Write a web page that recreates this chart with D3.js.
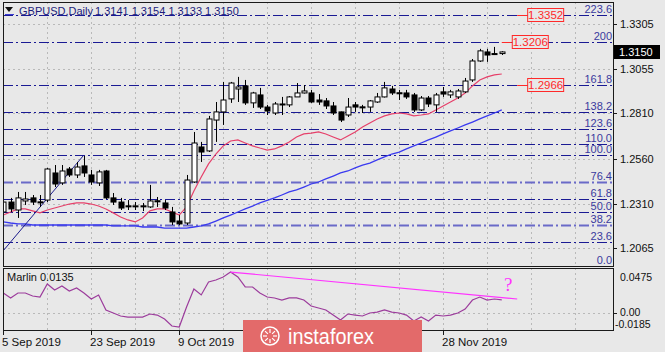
<!DOCTYPE html>
<html>
<head>
<meta charset="utf-8">
<script src="https://cdn.jsdelivr.net/npm/d3@7"></script>
<style>
  body { margin: 0; background: #e8e8e8; }
  svg { display: block; font-family: "Liberation Sans", Arial, sans-serif; }
</style>
</head>
<body>
<svg id="chart"></svg>
<script>
// GBPUSD daily bars, 5 Sep 2019 .. 9 Dec 2019 (one entry per bar)
var openP = [1.2264,1.2319,1.2275,1.2325,1.2342,1.2320,1.2330,1.2480,1.2425,1.2502,
  1.2469,1.2519,1.2469,1.2425,1.2491,1.2342,1.2319,1.2298,1.2296,1.2298,
  1.2292,1.2326,1.2314,1.2264,1.2214,1.2203,1.2430,1.2624,1.2602,1.2773,
  1.2818,1.2890,1.2945,1.2962,1.2868,1.2912,1.2845,1.2812,1.2862,1.2857,
  1.2901,1.2923,1.2923,1.2884,1.2879,1.2851,1.2818,1.2801,1.2857,1.2846,
  1.2845,1.2873,1.2901,1.2945,1.2924,1.2923,1.2912,1.2829,1.2895,1.2857,
  1.2929,1.2912,1.2901,1.2929,1.2995,1.3100,1.3150,1.3141,1.3141];
var highP = [1.2342,1.2342,1.2375,1.2375,1.2358,1.2358,1.2508,1.2524,1.2524,1.2513,
  1.2541,1.2574,1.2497,1.2497,1.2497,1.2369,1.2342,1.2330,1.2319,1.2314,
  1.2414,1.2347,1.2330,1.2292,1.2247,1.2469,1.2707,1.2652,1.2796,1.2873,
  1.2984,1.2984,1.3012,1.2995,1.2929,1.2951,1.2857,1.2873,1.2901,1.2906,
  1.2978,1.2967,1.2940,1.2917,1.2895,1.2873,1.2820,1.2895,1.2873,1.2857,
  1.2884,1.2923,1.2984,1.2962,1.2940,1.2940,1.2923,1.2906,1.2906,1.2923,
  1.2956,1.2940,1.2945,1.3006,1.3111,1.3167,1.3167,1.3178,1.3154];
var lowP = [1.2253,1.2264,1.2231,1.2303,1.2303,1.2292,1.2319,1.2402,1.2414,1.2458,
  1.2452,1.2458,1.2414,1.2408,1.2336,1.2303,1.2275,1.2275,1.2275,1.2269,
  1.2286,1.2292,1.2275,1.2192,1.2192,1.2192,1.2425,1.2541,1.2596,1.2652,
  1.2746,1.2868,1.2873,1.2857,1.2840,1.2834,1.2801,1.2801,1.2801,1.2845,
  1.2901,1.2920,1.2868,1.2857,1.2834,1.2801,1.2762,1.2790,1.2818,1.2812,
  1.2818,1.2868,1.2898,1.2912,1.2884,1.2890,1.2818,1.2823,1.2845,1.2818,
  1.2901,1.2895,1.2890,1.2923,1.2984,1.3095,1.3095,1.3133,1.3133];
var closeP = [1.2319,1.2281,1.2342,1.2336,1.2319,1.2318,1.2502,1.2419,1.2491,1.2469,
  1.2513,1.2480,1.2430,1.2486,1.2342,1.2319,1.2286,1.2295,1.2298,1.2294,
  1.2325,1.2322,1.2286,1.2209,1.2198,1.2441,1.2646,1.2596,1.2779,1.2818,
  1.2884,1.2978,1.2956,1.2868,1.2923,1.2845,1.2823,1.2862,1.2860,1.2901,
  1.2923,1.2934,1.2873,1.2873,1.2851,1.2812,1.2773,1.2845,1.2845,1.2844,
  1.2879,1.2901,1.2951,1.2923,1.2922,1.2901,1.2829,1.2895,1.2862,1.2912,
  1.2917,1.2929,1.2934,1.2989,1.3100,1.3156,1.3133,1.3139,1.3150];

// moving averages (red = fast, blue = slow)
var maFast = [1.2247,1.2264,1.2281,1.2281,1.2270,1.2259,1.2275,1.2286,1.2297,1.2308,
  1.2314,1.2314,1.2308,1.2297,1.2281,1.2259,1.2236,1.2220,1.2209,1.2231,
  1.2270,1.2281,1.2281,1.2264,1.2247,1.2292,1.2380,1.2458,1.2530,1.2585,
  1.2630,1.2657,1.2663,1.2646,1.2630,1.2618,1.2607,1.2613,1.2630,1.2652,
  1.2679,1.2696,1.2701,1.2707,1.2696,1.2679,1.2663,1.2685,1.2707,1.2735,
  1.2757,1.2779,1.2796,1.2807,1.2812,1.2807,1.2796,1.2801,1.2807,1.2829,
  1.2851,1.2873,1.2895,1.2923,1.2962,1.2995,1.3012,1.3023,1.3028];
var maSlow = [1.2209,1.2203,1.2198,1.2198,1.2192,1.2192,1.2192,1.2192,1.2192,1.2192,
  1.2192,1.2192,1.2192,1.2192,1.2192,1.2187,1.2187,1.2187,1.2187,1.2181,
  1.2181,1.2181,1.2175,1.2175,1.2175,1.2175,1.2181,1.2187,1.2198,1.2214,
  1.2231,1.2247,1.2264,1.2281,1.2297,1.2314,1.2328,1.2342,1.2358,1.2375,
  1.2386,1.2402,1.2419,1.2430,1.2447,1.2463,1.2480,1.2491,1.2508,1.2524,
  1.2535,1.2552,1.2569,1.2585,1.2596,1.2613,1.2630,1.2646,1.2663,1.2679,
  1.2696,1.2713,1.2729,1.2746,1.2762,1.2779,1.2796,1.2812,1.2829];

// Marlin oscillator
var marlin = [0.0209,0.0156,0.0209,0.0209,0.0177,0.0166,0.0305,0.0241,0.0283,0.0230,
  0.0262,0.0209,0.0145,0.0188,0.0028,-0.0004,-0.0036,-0.0047,-0.0047,-0.0047,
  -0.0015,-0.0026,-0.0068,-0.0143,-0.0153,0.0060,0.0251,0.0188,0.0326,0.0347,
  0.0379,0.0432,0.0379,0.0273,0.0273,0.0209,0.0166,0.0156,0.0134,0.0156,
  0.0156,0.0134,0.0070,0.0049,0.0028,-0.0026,-0.0079,-0.0015,-0.0026,-0.0036,
  -0.0004,0.0006,0.0028,0.0006,-0.0004,-0.0026,-0.0089,-0.0047,-0.0089,-0.0026,
  -0.0036,-0.0026,-0.0004,0.0038,0.0134,0.0166,0.0134,0.0145,0.0135];

// axis ticks
var priceTicks = [1.2065, 1.2310, 1.2560, 1.2810, 1.3055, 1.3305];
var marlinTicks = [0.0475, 0.0, -0.0185];
var marlinTickLabels = ["0.0475", "0.00", "-0.0185"];
var dateTickBars = [0, 12, 24, 36, 48, 60];
var dateTickLabels = ["5 Sep 2019", "23 Sep 2019", "9 Oct 2019", "25 Oct 2019", "12 Nov 2019", "28 Nov 2019"];

// fibonacci grid (0 -> 100 anchors) and its levels
var fibLow = 1.1950, fibHigh = 1.2578;
var fibLevels = [0, 23.6, 38.2, 50, 61.8, 76.4, 100, 110, 123.6, 138.2, 161.8, 200, 223.6];
var fibLabels = ["0.0", "23.6", "38.2", "50.0", "61.8", "76.4", "100.0", "110.0", "123.6", "138.2", "161.8", "200", "223.6"];

// price marks on the right
var markPrices = [1.3352, 1.3206, 1.2966];
var markBars = [70.1, 68, 70.1];

// hand drawn trend lines: [bar, value]
var priceTrend = [[0, 1.2050], [10.9, 1.2575]];
var marlinTrend = [[31, 0.0432], [70.1, 0.0145]];

var lastPrice = 1.3150;

// Set up the SVG dimensions
var svgWidth = 665;
var svgHeight = 352;
var plot = { left: 3, right: 613, top: 2, bottom: 266 };
var sub = { top: 268, bottom: 330 };

var svg = d3.select("#chart")
  .attr("width", svgWidth)
  .attr("height", svgHeight);

svg.append("rect")
  .attr("width", svgWidth)
  .attr("height", svgHeight)
  .attr("fill", "#e8e8e8");

// scales
var xScale = d3.scaleLinear().domain([0, 83.2]).range([3.3, 613.2]);
var yScale = d3.scaleLinear().domain([1.1965, 1.3421]).range([266, 3]);
var mScale = d3.scaleLinear().domain([-0.0185, 0.0475]).range([sub.bottom, sub.top]);

var defs = svg.append("defs");
defs.append("clipPath").attr("id", "clipMain")
  .append("rect")
  .attr("x", plot.left).attr("y", plot.top)
  .attr("width", plot.right - plot.left).attr("height", plot.bottom - plot.top);
defs.append("clipPath").attr("id", "clipSub")
  .append("rect")
  .attr("x", plot.left).attr("y", sub.top)
  .attr("width", plot.right - plot.left).attr("height", sub.bottom - sub.top);

var main = svg.append("g").attr("clip-path", "url(#clipMain)");
var lower = svg.append("g").attr("clip-path", "url(#clipSub)");

// grid lines
var gridBars = d3.range(6, 84, 6);
[main, lower].forEach(function (g, k) {
  g.selectAll(".vgrid")
    .data(gridBars)
    .enter()
    .append("line")
    .attr("x1", function (d) { return Math.round(xScale(d)) + 0.5; })
    .attr("x2", function (d) { return Math.round(xScale(d)) + 0.5; })
    .attr("y1", k === 0 ? plot.top : sub.top)
    .attr("y2", k === 0 ? plot.bottom : sub.bottom)
    .attr("stroke", "#b9b9b9")
    .attr("stroke-dasharray", "2,3");
});

main.selectAll(".hgrid")
  .data(priceTicks)
  .enter()
  .append("line")
  .attr("x1", plot.left)
  .attr("x2", plot.right)
  .attr("y1", function (d) { return Math.round(yScale(d)) + 0.5; })
  .attr("y2", function (d) { return Math.round(yScale(d)) + 0.5; })
  .attr("stroke", "#b9b9b9")
  .attr("stroke-dasharray", "2,3");

lower.append("line")
  .attr("x1", plot.left).attr("x2", plot.right)
  .attr("y1", Math.round(mScale(0)) + 0.5).attr("y2", Math.round(mScale(0)) + 0.5)
  .attr("stroke", "#b9b9b9")
  .attr("stroke-dasharray", "2,3");

// fibonacci levels
function fibPrice(lvl) {
  return fibLow + (fibHigh - fibLow) * lvl / 100;
}
main.selectAll(".fib")
  .data(fibLevels)
  .enter()
  .append("line")
  .attr("x1", plot.left)
  .attr("x2", plot.right)
  .attr("y1", function (d) { return Math.round(yScale(fibPrice(d))) + 0.5; })
  .attr("y2", function (d) { return Math.round(yScale(fibPrice(d))) + 0.5; })
  .attr("stroke", function (d) { return (d === 38.2 || d === 76.4) ? "#6a6ac8" : "#1a1a94"; })
  .attr("stroke-width", function (d) { return (d === 38.2 || d === 76.4) ? 2 : 1.2; })
  .attr("stroke-dasharray", "10,3,2,3");

svg.selectAll(".fibLabel")
  .data(fibLevels)
  .enter()
  .append("text")
  .attr("x", plot.right - 1)
  .attr("y", function (d) { return Math.min(yScale(fibPrice(d)) - 2, 264); })
  .attr("text-anchor", "end")
  .attr("font-size", "11px")
  .attr("fill", "#3a3a9e")
  .text(function (d, i) { return fibLabels[i]; });

// moving averages
var lineGen = function (arr, scale) {
  return d3.line()
    .x(function (d, i) { return xScale(i); })
    .y(function (d) { return scale(d); })(arr);
};

main.append("path")
  .attr("d", lineGen(maSlow, yScale))
  .attr("fill", "none")
  .attr("stroke", "#3a3af0")
  .attr("stroke-width", 1.3);

main.append("path")
  .attr("d", lineGen(maFast, yScale))
  .attr("fill", "none")
  .attr("stroke", "#e6406a")
  .attr("stroke-width", 1.2);

// trend line in price window
main.append("line")
  .attr("x1", xScale(priceTrend[0][0])).attr("y1", yScale(priceTrend[0][1]))
  .attr("x2", xScale(priceTrend[1][0])).attr("y2", yScale(priceTrend[1][1]))
  .attr("stroke", "#1c1c8c")
  .attr("stroke-width", 1);

// candles
var bars = d3.range(openP.length);
main.selectAll(".wick")
  .data(bars)
  .enter()
  .append("line")
  .attr("x1", function (i) { return Math.round(xScale(i)) + 0.5; })
  .attr("x2", function (i) { return Math.round(xScale(i)) + 0.5; })
  .attr("y1", function (i) { return yScale(highP[i]); })
  .attr("y2", function (i) { return yScale(lowP[i]); })
  .attr("stroke", "#000")
  .attr("stroke-width", 1);

main.selectAll(".body")
  .data(bars)
  .enter()
  .append("rect")
  .attr("x", function (i) { return Math.round(xScale(i)) - 2; })
  .attr("width", 5)
  .attr("y", function (i) { return yScale(Math.max(openP[i], closeP[i])); })
  .attr("height", function (i) {
    var h = Math.abs(yScale(openP[i]) - yScale(closeP[i]));
    return h < 1 ? 1 : h;
  })
  .attr("fill", function (i) { return closeP[i] >= openP[i] ? "#ffffff" : "#000000"; })
  .attr("stroke", "#000")
  .attr("stroke-width", 1);

// price marks (red labels)
markPrices.forEach(function (p, i) {
  var y = yScale(p);
  var x0 = xScale(markBars[i]);
  svg.append("line")
    .attr("x1", x0).attr("x2", x0 + 10)
    .attr("y1", Math.round(y) + 0.5).attr("y2", Math.round(y) + 0.5)
    .attr("stroke", "#ff2a2a");
  svg.append("rect")
    .attr("x", x0 + 10.5).attr("y", Math.round(y) - 6.5)
    .attr("width", 36).attr("height", 13)
    .attr("fill", "#e8e8e8")
    .attr("stroke", "#ff2a2a");
  svg.append("text")
    .attr("x", x0 + 28.5).attr("y", Math.round(y) + 4)
    .attr("text-anchor", "middle")
    .attr("font-size", "11.5px")
    .attr("fill", "#ff2a2a")
    .text(p.toFixed(4));
});

// Marlin oscillator
lower.append("path")
  .attr("d", lineGen(marlin, mScale))
  .attr("fill", "none")
  .attr("stroke", "#9c3c9c")
  .attr("stroke-width", 1.2);

lower.append("line")
  .attr("x1", xScale(marlinTrend[0][0])).attr("y1", mScale(marlinTrend[0][1]))
  .attr("x2", xScale(marlinTrend[1][0])).attr("y2", mScale(marlinTrend[1][1]))
  .attr("stroke", "#ff33ff")
  .attr("stroke-width", 1.2);

svg.append("text")
  .attr("x", 504).attr("y", 291)
  .attr("font-family", "'Liberation Serif', serif")
  .attr("font-size", "19px")
  .attr("fill", "#ff33ff")
  .text("?");

svg.append("text")
  .attr("x", 7).attr("y", 281)
  .attr("font-size", "11px")
  .attr("fill", "#111")
  .text("Marlin 0.0135");

// frames
svg.append("rect")
  .attr("x", plot.left + 0.5).attr("y", plot.top + 0.5)
  .attr("width", plot.right - plot.left).attr("height", plot.bottom - plot.top)
  .attr("fill", "none").attr("stroke", "#1a1a1a");
svg.append("rect")
  .attr("x", plot.left + 0.5).attr("y", sub.top + 0.5)
  .attr("width", plot.right - plot.left).attr("height", sub.bottom - sub.top)
  .attr("fill", "none").attr("stroke", "#1a1a1a");

// right price axis
svg.selectAll(".ptick")
  .data(priceTicks)
  .enter()
  .append("line")
  .attr("x1", plot.right + 0.5).attr("x2", plot.right + 4)
  .attr("y1", function (d) { return Math.round(yScale(d)) + 0.5; })
  .attr("y2", function (d) { return Math.round(yScale(d)) + 0.5; })
  .attr("stroke", "#1a1a1a");
svg.selectAll(".plabel")
  .data(priceTicks)
  .enter()
  .append("text")
  .attr("x", 620)
  .attr("y", function (d) { return yScale(d) + 4; })
  .attr("font-size", "11px")
  .attr("fill", "#111")
  .text(function (d) { return d.toFixed(4); });

// current price box
svg.append("rect")
  .attr("x", 614).attr("y", Math.round(yScale(lastPrice)) - 7)
  .attr("width", 46).attr("height", 14)
  .attr("fill", "#000");
svg.append("text")
  .attr("x", 619).attr("y", yScale(lastPrice) + 4)
  .attr("font-size", "11px")
  .attr("fill", "#fff")
  .text(lastPrice.toFixed(4));

// marlin axis
svg.selectAll(".mlabel")
  .data(marlinTicks)
  .enter()
  .append("text")
  .attr("x", function (d) { return d < 0 ? 615 : 620; })
  .attr("y", function (d, i) { return [281, 316, 328][i]; })
  .attr("font-size", "10.5px")
  .attr("fill", "#111")
  .text(function (d, i) { return marlinTickLabels[i]; });
svg.append("line")
  .attr("x1", plot.right + 0.5).attr("x2", plot.right + 4)
  .attr("y1", Math.round(mScale(0)) + 0.5).attr("y2", Math.round(mScale(0)) + 0.5)
  .attr("stroke", "#1a1a1a");

// date axis
var wm = { x: 243, y: 320, w: 179, h: 32 };
svg.selectAll(".dtick")
  .data(dateTickBars)
  .enter()
  .append("line")
  .attr("x1", function (d) { return Math.round(xScale(d)) + 0.5; })
  .attr("x2", function (d) { return Math.round(xScale(d)) + 0.5; })
  .attr("y1", sub.bottom).attr("y2", sub.bottom + 5)
  .attr("stroke", "#1a1a1a");
svg.selectAll(".dlabel")
  .data(dateTickBars.filter(function (d) {
    var x = xScale(d);
    return x < wm.x - 30 || x > wm.x + wm.w;
  }))
  .enter()
  .append("text")
  .attr("x", function (d) { return Math.round(xScale(d)) - 1; })
  .attr("y", 346)
  .attr("font-size", "11.5px")
  .attr("fill", "#111")
  .text(function (d) { return dateTickLabels[dateTickBars.indexOf(d)]; });

// title
svg.append("path")
  .attr("d", "M5,7 L13,7 L9,12 Z")
  .attr("fill", "#111");
svg.append("line")
  .attr("x1", 5).attr("x2", 14).attr("y1", 14.5).attr("y2", 14.5)
  .attr("stroke", "#3a3ad0");
svg.append("text")
  .attr("x", 19).attr("y", 15)
  .attr("font-size", "11px")
  .attr("fill", "#1c1c7c")
  .text("GBPUSD,Daily");
svg.append("text")
  .attr("x", 95).attr("y", 15)
  .attr("font-size", "11px")
  .attr("fill", "#1c1c7c")
  .text("1.3141 1.3154 1.3133 1.3150");

// watermark
svg.append("rect")
  .attr("x", wm.x).attr("y", wm.y)
  .attr("width", wm.w).attr("height", wm.h)
  .attr("fill", "#e36a6a");
var logo = svg.append("g").attr("transform", "translate(270,336)");
logo.append("circle").attr("r", 9).attr("fill", "none").attr("stroke", "#fff").attr("stroke-width", 1.5);
d3.range(8).forEach(function (k) {
  var a = k * Math.PI / 4;
  logo.append("line")
    .attr("x1", 3 * Math.cos(a)).attr("y1", 3 * Math.sin(a))
    .attr("x2", 7 * Math.cos(a)).attr("y2", 7 * Math.sin(a))
    .attr("stroke", "#fff").attr("stroke-width", 1.2);
});
svg.append("text")
  .attr("x", 288).attr("y", 344)
  .attr("font-size", "22px")
  .attr("fill", "#fff")
  .attr("textLength", 86)
  .attr("lengthAdjust", "spacingAndGlyphs")
  .text("instaforex");
</script>
</body>
</html>
